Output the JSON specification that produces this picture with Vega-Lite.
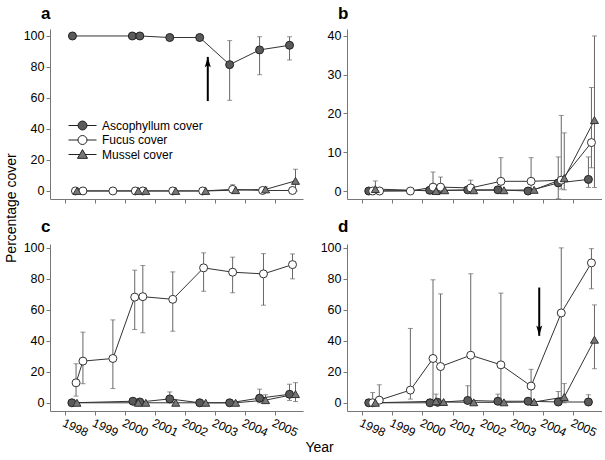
{
"$schema":"https://vega.github.io/schema/vega-lite/v6.json",
"padding":{"left":5,"top":5,"right":0,"bottom":0},
"datasets":{
"d":[
{"p":"a","s":"A","t":1998.25,"v":100},{"p":"a","s":"A","t":2000.25,"v":100},{"p":"a","s":"A","t":2000.5,"v":100},{"p":"a","s":"A","t":2001.5,"v":99,"lo":97.5,"hi":100},{"p":"a","s":"A","t":2002.5,"v":99,"lo":98,"hi":100},{"p":"a","s":"A","t":2003.5,"v":81.5,"lo":58.5,"hi":97},{"p":"a","s":"A","t":2004.5,"v":91,"lo":75,"hi":99.5},{"p":"a","s":"A","t":2005.5,"v":94,"lo":84.5,"hi":99.5},
{"p":"a","s":"F","t":1998.35,"v":0},{"p":"a","s":"F","t":1998.6,"v":0},{"p":"a","s":"F","t":1999.6,"v":0},{"p":"a","s":"F","t":2000.35,"v":0},{"p":"a","s":"F","t":2000.6,"v":0},{"p":"a","s":"F","t":2001.6,"v":0},{"p":"a","s":"F","t":2002.6,"v":0},{"p":"a","s":"F","t":2003.6,"v":1,"lo":0,"hi":4},{"p":"a","s":"F","t":2004.6,"v":0.3},{"p":"a","s":"F","t":2005.6,"v":0.3},
{"p":"a","s":"M","t":1998.4,"v":0},{"p":"a","s":"M","t":2000.45,"v":0},{"p":"a","s":"M","t":2000.7,"v":0},{"p":"a","s":"M","t":2001.7,"v":0},{"p":"a","s":"M","t":2002.7,"v":0},{"p":"a","s":"M","t":2003.7,"v":0.5},{"p":"a","s":"M","t":2004.7,"v":1,"lo":0,"hi":2.5},{"p":"a","s":"M","t":2005.7,"v":6.5,"lo":0,"hi":14},
{"p":"b","s":"A","t":1998.22,"v":0},{"p":"b","s":"A","t":2000.24,"v":0.2},{"p":"b","s":"A","t":2000.5,"v":0.1},{"p":"b","s":"A","t":2001.5,"v":0.3},{"p":"b","s":"A","t":2002.5,"v":0.3},{"p":"b","s":"A","t":2003.5,"v":0},{"p":"b","s":"A","t":2004.5,"v":2.1,"lo":-2,"hi":8.8},{"p":"b","s":"A","t":2005.5,"v":3,"lo":0.9,"hi":8.8},
{"p":"b","s":"F","t":1998.35,"v":0},{"p":"b","s":"F","t":1998.58,"v":0},{"p":"b","s":"F","t":1999.6,"v":0},{"p":"b","s":"F","t":2000.35,"v":1,"lo":0,"hi":4.9},{"p":"b","s":"F","t":2000.6,"v":1,"lo":0,"hi":3.6},{"p":"b","s":"F","t":2001.6,"v":0.8,"lo":0,"hi":2.8},{"p":"b","s":"F","t":2002.6,"v":2.5,"lo":0,"hi":8.6},{"p":"b","s":"F","t":2003.6,"v":2.5,"lo":0,"hi":8.6},{"p":"b","s":"F","t":2004.6,"v":2.8,"lo":0.5,"hi":19.5},{"p":"b","s":"F","t":2005.6,"v":12.5,"lo":6,"hi":26.7},
{"p":"b","s":"M","t":1998.44,"v":0.5,"lo":0,"hi":2.6},{"p":"b","s":"M","t":2000.45,"v":0},{"p":"b","s":"M","t":2000.74,"v":0.2},{"p":"b","s":"M","t":2001.7,"v":0.2},{"p":"b","s":"M","t":2002.7,"v":0.2},{"p":"b","s":"M","t":2003.7,"v":0.3},{"p":"b","s":"M","t":2004.7,"v":3.3,"lo":0.3,"hi":15},{"p":"b","s":"M","t":2005.7,"v":18.3,"lo":0.9,"hi":40},
{"p":"c","s":"A","t":1998.23,"v":0},{"p":"c","s":"A","t":2000.27,"v":1},{"p":"c","s":"A","t":2000.5,"v":0.5},{"p":"c","s":"A","t":2001.5,"v":2.5,"lo":0,"hi":7},{"p":"c","s":"A","t":2002.5,"v":0},{"p":"c","s":"A","t":2003.5,"v":0},{"p":"c","s":"A","t":2004.5,"v":3,"lo":0,"hi":8.8},{"p":"c","s":"A","t":2005.5,"v":5.5,"lo":1.5,"hi":12},
{"p":"c","s":"F","t":1998.37,"v":12.9,"lo":4.3,"hi":25.2},{"p":"c","s":"F","t":1998.6,"v":26.9,"lo":12.3,"hi":45.6},{"p":"c","s":"F","t":1999.6,"v":28.6,"lo":9.2,"hi":53.5},{"p":"c","s":"F","t":2000.33,"v":68.2,"lo":47.3,"hi":85.6},{"p":"c","s":"F","t":2000.6,"v":68.5,"lo":45.2,"hi":88.6},{"p":"c","s":"F","t":2001.6,"v":66.8,"lo":46.2,"hi":84.5},{"p":"c","s":"F","t":2002.63,"v":87.1,"lo":72,"hi":96.8},{"p":"c","s":"F","t":2003.6,"v":84.3,"lo":71,"hi":94},{"p":"c","s":"F","t":2004.63,"v":83.2,"lo":63,"hi":96.3},{"p":"c","s":"F","t":2005.6,"v":89.2,"lo":80,"hi":96.1},
{"p":"c","s":"M","t":1998.4,"v":0},{"p":"c","s":"M","t":2000.45,"v":0},{"p":"c","s":"M","t":2000.7,"v":0},{"p":"c","s":"M","t":2001.7,"v":0},{"p":"c","s":"M","t":2002.7,"v":0},{"p":"c","s":"M","t":2003.7,"v":0},{"p":"c","s":"M","t":2004.7,"v":1.7,"lo":0,"hi":5.2},{"p":"c","s":"M","t":2005.7,"v":5.6,"lo":0.8,"hi":13},
{"p":"d","s":"A","t":1998.22,"v":0},{"p":"d","s":"A","t":2000.25,"v":0},{"p":"d","s":"A","t":2000.5,"v":0.3},{"p":"d","s":"A","t":2001.5,"v":1.5,"lo":0,"hi":11},{"p":"d","s":"A","t":2002.5,"v":1,"lo":0,"hi":5.6},{"p":"d","s":"A","t":2003.5,"v":1,"lo":0,"hi":3},{"p":"d","s":"A","t":2004.5,"v":0.5,"lo":0,"hi":7.3},{"p":"d","s":"A","t":2005.5,"v":0.5,"lo":0,"hi":5.2},
{"p":"d","s":"F","t":1998.35,"v":0,"lo":0,"hi":6.6},{"p":"d","s":"F","t":1998.57,"v":1.7,"lo":0,"hi":11.6},{"p":"d","s":"F","t":1999.6,"v":8.2,"lo":2.4,"hi":48},{"p":"d","s":"F","t":2000.35,"v":28.6,"lo":0,"hi":79.4},{"p":"d","s":"F","t":2000.6,"v":23.4,"lo":0,"hi":70.3},{"p":"d","s":"F","t":2001.6,"v":30.7,"lo":0,"hi":83.3},{"p":"d","s":"F","t":2002.6,"v":24.5,"lo":0,"hi":70.8},{"p":"d","s":"F","t":2003.6,"v":10.8,"lo":0,"hi":21.6},{"p":"d","s":"F","t":2004.6,"v":58,"lo":1,"hi":100},{"p":"d","s":"F","t":2005.6,"v":90.3,"lo":73.6,"hi":99.5},
{"p":"d","s":"M","t":1998.44,"v":0},{"p":"d","s":"M","t":2000.45,"v":1,"lo":0,"hi":5.6},{"p":"d","s":"M","t":2000.7,"v":0.5},{"p":"d","s":"M","t":2001.7,"v":0.3},{"p":"d","s":"M","t":2002.7,"v":0.3},{"p":"d","s":"M","t":2003.7,"v":0.5},{"p":"d","s":"M","t":2004.7,"v":3.7,"lo":0,"hi":12.4},{"p":"d","s":"M","t":2005.7,"v":40.7,"lo":22,"hi":63.2}
],
"arr":[{"p":"a","t":2002.77,"y1":58,"y2":86.5},{"p":"d","t":2003.87,"y1":74.4,"y2":43.2}],
"lg":[{"lg":"Ascophyllum cover"},{"lg":"Fucus cover"},{"lg":"Mussel cover"}]
},
"title":{"text":"Percentage cover","orient":"left","anchor":"middle","fontSize":14,"fontWeight":"normal","frame":"bounds","dx":22,"offset":4},
"spacing":13,
"vconcat":[
{"hconcat":[
{"width":253,"height":170,"title":{"text":"a"},"data":{"name":"d"},"transform":[{"filter":"datum.p==='a'"}],
"encoding":{"x":{"field":"t","type":"quantitative","scale":{"domain":[1997.5,2005.95],"nice":false,"zero":false},"axis":{"values":[1998,1999,2000,2001,2002,2003,2004,2005],"labels":false,"title":null}}},
"layer":[
{"mark":{"type":"line","color":"#333","strokeWidth":1},"encoding":{"y":{"field":"v","type":"quantitative","scale":{"domain":[-5.2,104.5],"nice":false,"zero":false},"axis":{"values":[0,20,40,60,80,100],"title":null}},"detail":{"field":"s"},"order":{"field":"t","type":"quantitative"}}},
{"transform":[{"filter":"isValid(datum.hi)"}],"mark":{"type":"rule","color":"#666","strokeWidth":1},"encoding":{"y":{"field":"lo","type":"quantitative","scale":{"domain":[-5.2,104.5],"nice":false,"zero":false},"axis":{"values":[0,20,40,60,80,100],"title":null}},"y2":{"field":"hi"}}},
{"transform":[{"filter":"isValid(datum.hi)"}],"mark":{"type":"tick","orient":"horizontal","color":"#666","size":5,"thickness":1},"encoding":{"y":{"field":"hi","type":"quantitative","scale":{"domain":[-5.2,104.5],"nice":false,"zero":false},"axis":{"values":[0,20,40,60,80,100],"title":null}}}},
{"transform":[{"filter":"isValid(datum.hi)"}],"mark":{"type":"tick","orient":"horizontal","color":"#666","size":5,"thickness":1},"encoding":{"y":{"field":"lo","type":"quantitative","scale":{"domain":[-5.2,104.5],"nice":false,"zero":false},"axis":{"values":[0,20,40,60,80,100],"title":null}}}},
{"mark":{"type":"point","filled":true,"size":64,"strokeWidth":1,"opacity":1},"encoding":{"y":{"field":"v","type":"quantitative","scale":{"domain":[-5.2,104.5],"nice":false,"zero":false},"axis":{"values":[0,20,40,60,80,100],"title":null}},"shape":{"field":"s","type":"nominal","scale":{"domain":["A","F","M"],"range":["circle","circle","triangle-up"]},"legend":null},"fill":{"field":"s","type":"nominal","scale":{"domain":["A","F","M"],"range":["#5a5a5a","#ffffff","#777777"]},"legend":null},"stroke":{"field":"s","type":"nominal","scale":{"domain":["A","F","M"],"range":["#222222","#333333","#333333"]},"legend":null}}},
{"data":{"name":"arr"},"transform":[{"filter":"datum.p==='a'"}],"mark":{"type":"rule","color":"#000","strokeWidth":2},"encoding":{"y":{"field":"y1","type":"quantitative","scale":{"domain":[-5.2,104.5],"nice":false,"zero":false},"axis":{"values":[0,20,40,60,80,100],"title":null}},"y2":{"field":"y2"}}},
{"data":{"name":"arr"},"transform":[{"filter":"datum.p==='a'"}],"mark":{"type":"point","shape":"M0,0L0.8,2.8L0,2.2L-0.8,2.8Z","size":56,"filled":true,"color":"#000","opacity":1},"encoding":{"y":{"field":"y2","type":"quantitative","scale":{"domain":[-5.2,104.5],"nice":false,"zero":false},"axis":{"values":[0,20,40,60,80,100],"title":null}}}},
{"data":{"name":"lg"},"mark":{"type":"point","filled":true,"clip":true,"opacity":1},"encoding":{"x":{"datum":1990,"type":"quantitative","scale":{"domain":[1997.5,2005.95],"nice":false,"zero":false},"axis":{"values":[1998,1999,2000,2001,2002,2003,2004,2005],"labels":false,"title":null}},"y":{"datum":50,"type":"quantitative","scale":{"domain":[-5.2,104.5],"nice":false,"zero":false},"axis":{"values":[0,20,40,60,80,100],"title":null}},
"shape":{"field":"lg","type":"nominal","scale":{"domain":["Ascophyllum cover","Fucus cover","Mussel cover"],"range":["M-2,0H-0.64M0.64,0H2M-0.64,0A0.64,0.64,0,1,1,0.64,0A0.64,0.64,0,1,1,-0.64,0Z","M-2,0H-0.64M0.64,0H2M-0.64,0A0.64,0.64,0,1,1,0.64,0A0.64,0.64,0,1,1,-0.64,0Z","M-2,0H-0.4M0.4,0H2M0,-0.7L0.72,0.55L-0.72,0.55Z"]},"legend":{"title":null,"orient":"none","legendX":25,"legendY":89,"symbolSize":196,"labelFontSize":12,"labelOffset":12,"rowPadding":0.5,"symbolStrokeWidth":1,"padding":0}},
"fill":{"field":"lg","type":"nominal","scale":{"domain":["Ascophyllum cover","Fucus cover","Mussel cover"],"range":["#5a5a5a","#ffffff","#777777"]},"legend":{"title":null,"orient":"none","legendX":25,"legendY":89,"symbolSize":196,"labelFontSize":12,"labelOffset":12,"rowPadding":0.5,"symbolStrokeWidth":1,"padding":0}},
"stroke":{"field":"lg","type":"nominal","scale":{"domain":["Ascophyllum cover","Fucus cover","Mussel cover"],"range":["#222222","#222222","#222222"]},"legend":{"title":null,"orient":"none","legendX":25,"legendY":89,"symbolSize":196,"labelFontSize":12,"labelOffset":12,"rowPadding":0.5,"symbolStrokeWidth":1,"padding":0}}}}
],
"resolve":{"scale":{"shape":"independent","fill":"independent","stroke":"independent"}}
},
{"width":255,"height":170,"title":{"text":"b"},"data":{"name":"d"},"transform":[{"filter":"datum.p==='b'"}],
"encoding":{"x":{"field":"t","type":"quantitative","scale":{"domain":[1997.5,2005.95],"nice":false,"zero":false},"axis":{"values":[1998,1999,2000,2001,2002,2003,2004,2005],"labels":false,"title":null}}},
"layer":[
{"mark":{"type":"line","color":"#333","strokeWidth":1},"encoding":{"y":{"field":"v","type":"quantitative","scale":{"domain":[-2.06,41.8],"nice":false,"zero":false},"axis":{"values":[0,10,20,30,40],"title":null}},"detail":{"field":"s"},"order":{"field":"t","type":"quantitative"}}},
{"transform":[{"filter":"isValid(datum.hi)"}],"mark":{"type":"rule","color":"#666","strokeWidth":1},"encoding":{"y":{"field":"lo","type":"quantitative","scale":{"domain":[-2.06,41.8],"nice":false,"zero":false},"axis":{"values":[0,10,20,30,40],"title":null}},"y2":{"field":"hi"}}},
{"transform":[{"filter":"isValid(datum.hi)"}],"mark":{"type":"tick","orient":"horizontal","color":"#666","size":5,"thickness":1},"encoding":{"y":{"field":"hi","type":"quantitative","scale":{"domain":[-2.06,41.8],"nice":false,"zero":false},"axis":{"values":[0,10,20,30,40],"title":null}}}},
{"transform":[{"filter":"isValid(datum.hi)"}],"mark":{"type":"tick","orient":"horizontal","color":"#666","size":5,"thickness":1},"encoding":{"y":{"field":"lo","type":"quantitative","scale":{"domain":[-2.06,41.8],"nice":false,"zero":false},"axis":{"values":[0,10,20,30,40],"title":null}}}},
{"mark":{"type":"point","filled":true,"size":64,"strokeWidth":1,"opacity":1},"encoding":{"y":{"field":"v","type":"quantitative","scale":{"domain":[-2.06,41.8],"nice":false,"zero":false},"axis":{"values":[0,10,20,30,40],"title":null}},"shape":{"field":"s","type":"nominal","scale":{"domain":["A","F","M"],"range":["circle","circle","triangle-up"]},"legend":null},"fill":{"field":"s","type":"nominal","scale":{"domain":["A","F","M"],"range":["#5a5a5a","#ffffff","#777777"]},"legend":null},"stroke":{"field":"s","type":"nominal","scale":{"domain":["A","F","M"],"range":["#222222","#333333","#333333"]},"legend":null}}}
]
}
],"spacing":44,"bounds":"flush"},
{"hconcat":[
{"width":253,"height":167,"title":{"text":"c"},"data":{"name":"d"},"transform":[{"filter":"datum.p==='c'"}],
"encoding":{"x":{"field":"t","type":"quantitative","scale":{"domain":[1997.5,2005.95],"nice":false,"zero":false},"axis":{"values":[1998,1999,2000,2001,2002,2003,2004,2005],"format":"d","labelAngle":25,"labelAlign":"left","labelBaseline":"top","labelOverlap":false,"labelFontSize":12,"title":null}}},
"layer":[
{"mark":{"type":"line","color":"#333","strokeWidth":1},"encoding":{"y":{"field":"v","type":"quantitative","scale":{"domain":[-5.3,102.5],"nice":false,"zero":false},"axis":{"values":[0,20,40,60,80,100],"title":null}},"detail":{"field":"s"},"order":{"field":"t","type":"quantitative"}}},
{"transform":[{"filter":"isValid(datum.hi)"}],"mark":{"type":"rule","color":"#666","strokeWidth":1},"encoding":{"y":{"field":"lo","type":"quantitative","scale":{"domain":[-5.3,102.5],"nice":false,"zero":false},"axis":{"values":[0,20,40,60,80,100],"title":null}},"y2":{"field":"hi"}}},
{"transform":[{"filter":"isValid(datum.hi)"}],"mark":{"type":"tick","orient":"horizontal","color":"#666","size":5,"thickness":1},"encoding":{"y":{"field":"hi","type":"quantitative","scale":{"domain":[-5.3,102.5],"nice":false,"zero":false},"axis":{"values":[0,20,40,60,80,100],"title":null}}}},
{"transform":[{"filter":"isValid(datum.hi)"}],"mark":{"type":"tick","orient":"horizontal","color":"#666","size":5,"thickness":1},"encoding":{"y":{"field":"lo","type":"quantitative","scale":{"domain":[-5.3,102.5],"nice":false,"zero":false},"axis":{"values":[0,20,40,60,80,100],"title":null}}}},
{"mark":{"type":"point","filled":true,"size":64,"strokeWidth":1,"opacity":1},"encoding":{"y":{"field":"v","type":"quantitative","scale":{"domain":[-5.3,102.5],"nice":false,"zero":false},"axis":{"values":[0,20,40,60,80,100],"title":null}},"shape":{"field":"s","type":"nominal","scale":{"domain":["A","F","M"],"range":["circle","circle","triangle-up"]},"legend":null},"fill":{"field":"s","type":"nominal","scale":{"domain":["A","F","M"],"range":["#5a5a5a","#ffffff","#777777"]},"legend":null},"stroke":{"field":"s","type":"nominal","scale":{"domain":["A","F","M"],"range":["#222222","#333333","#333333"]},"legend":null}}}
]
},
{"width":255,"height":167,"title":{"text":"d"},"data":{"name":"d"},"transform":[{"filter":"datum.p==='d'"}],
"encoding":{"x":{"field":"t","type":"quantitative","scale":{"domain":[1997.5,2005.95],"nice":false,"zero":false},"axis":{"values":[1998,1999,2000,2001,2002,2003,2004,2005],"format":"d","labelAngle":25,"labelAlign":"left","labelBaseline":"top","labelOverlap":false,"labelFontSize":12,"title":null}}},
"layer":[
{"mark":{"type":"line","color":"#333","strokeWidth":1},"encoding":{"y":{"field":"v","type":"quantitative","scale":{"domain":[-5.3,102.5],"nice":false,"zero":false},"axis":{"values":[0,20,40,60,80,100],"title":null}},"detail":{"field":"s"},"order":{"field":"t","type":"quantitative"}}},
{"transform":[{"filter":"isValid(datum.hi)"}],"mark":{"type":"rule","color":"#666","strokeWidth":1},"encoding":{"y":{"field":"lo","type":"quantitative","scale":{"domain":[-5.3,102.5],"nice":false,"zero":false},"axis":{"values":[0,20,40,60,80,100],"title":null}},"y2":{"field":"hi"}}},
{"transform":[{"filter":"isValid(datum.hi)"}],"mark":{"type":"tick","orient":"horizontal","color":"#666","size":5,"thickness":1},"encoding":{"y":{"field":"hi","type":"quantitative","scale":{"domain":[-5.3,102.5],"nice":false,"zero":false},"axis":{"values":[0,20,40,60,80,100],"title":null}}}},
{"transform":[{"filter":"isValid(datum.hi)"}],"mark":{"type":"tick","orient":"horizontal","color":"#666","size":5,"thickness":1},"encoding":{"y":{"field":"lo","type":"quantitative","scale":{"domain":[-5.3,102.5],"nice":false,"zero":false},"axis":{"values":[0,20,40,60,80,100],"title":null}}}},
{"mark":{"type":"point","filled":true,"size":64,"strokeWidth":1,"opacity":1},"encoding":{"y":{"field":"v","type":"quantitative","scale":{"domain":[-5.3,102.5],"nice":false,"zero":false},"axis":{"values":[0,20,40,60,80,100],"title":null}},"shape":{"field":"s","type":"nominal","scale":{"domain":["A","F","M"],"range":["circle","circle","triangle-up"]},"legend":null},"fill":{"field":"s","type":"nominal","scale":{"domain":["A","F","M"],"range":["#5a5a5a","#ffffff","#777777"]},"legend":null},"stroke":{"field":"s","type":"nominal","scale":{"domain":["A","F","M"],"range":["#222222","#333333","#333333"]},"legend":null}}},
{"data":{"name":"arr"},"transform":[{"filter":"datum.p==='d'"}],"mark":{"type":"rule","color":"#000","strokeWidth":2},"encoding":{"y":{"field":"y1","type":"quantitative","scale":{"domain":[-5.3,102.5],"nice":false,"zero":false},"axis":{"values":[0,20,40,60,80,100],"title":null}},"y2":{"field":"y2"}}},
{"data":{"name":"arr"},"transform":[{"filter":"datum.p==='d'"}],"mark":{"type":"point","shape":"M0,0L0.8,-2.8L0,-2.2L-0.8,-2.8Z","size":56,"filled":true,"color":"#000","opacity":1},"encoding":{"y":{"field":"y2","type":"quantitative","scale":{"domain":[-5.3,102.5],"nice":false,"zero":false},"axis":{"values":[0,20,40,60,80,100],"title":null}}}}
]
}
],"spacing":44,"bounds":"flush","title":{"text":"Year","orient":"bottom","anchor":"middle","fontSize":14,"fontWeight":"normal","frame":"bounds","dx":7,"offset":3}}
],
"config":{
"font":"Liberation Sans",
"view":{"stroke":null},
"axis":{"grid":false,"domainColor":"#777777","tickColor":"#777777","labelColor":"#000000","labelFontSize":12.5,"tickSize":4,"labelPadding":2,"labelOverlap":false},
"title":{"fontWeight":"bold","fontSize":17,"anchor":"start","dx":-9,"offset":6,"frame":"group","color":"#000000"},
"legend":{"labelColor":"#000000"}
}
}
